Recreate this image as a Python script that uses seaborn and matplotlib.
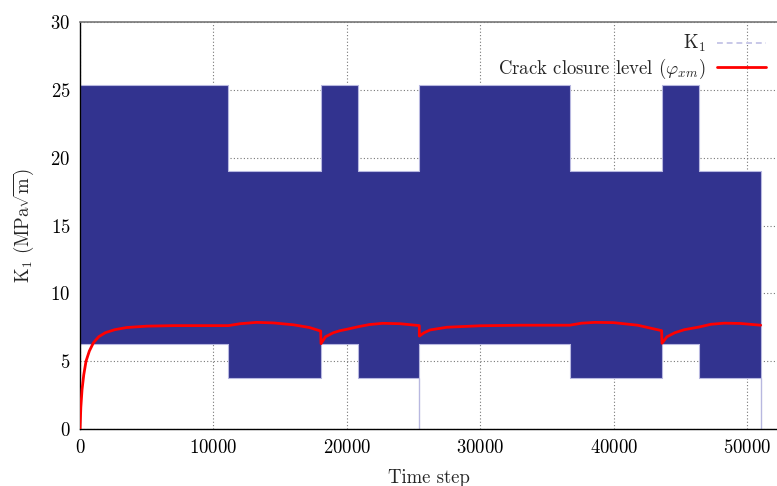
import numpy as np
import pandas as pd
import matplotlib
matplotlib.use("Agg")
import matplotlib.pyplot as plt
import seaborn as sns

# Blocs de chargement (K1 oscille entre kmin et kmax sur chaque bloc)
bloc_debut = [0, 11117, 18066, 20862, 25435, 36710, 43628, 46424, 51027]
k_max = [25.35, 19.0, 25.35, 19.0, 25.35, 19.0, 25.35, 19.0]
k_min = [6.3, 3.76, 6.3, 3.76, 6.3, 3.76, 6.3, 3.76]
# instants de décharge complète (K1 -> 0)
decharges = [25435, 51027]

# Niveau de fermeture de fissure
t_fermeture = [0, 60, 150, 280, 450, 700, 1000, 1400, 1900, 2600, 3500, 5000, 7000,
               9000, 11117, 12000, 13245, 14500, 16000, 17200, 18040, 18066, 18400,
               19000, 19500, 20000, 20862, 21700, 22700, 24000, 25435, 25436, 25800,
               26240, 27500, 30000, 33000, 36710, 37600, 38600, 40000, 41800, 43600,
               43628, 44000, 44600, 45300, 46424, 47300, 48300, 49500, 51027]
k_fermeture = [0.0, 1.6, 2.9, 4.0, 5.0, 5.75, 6.35, 6.8, 7.1, 7.32, 7.48, 7.58, 7.62,
               7.62, 7.62, 7.76, 7.86, 7.82, 7.68, 7.48, 7.22, 6.29, 6.8,
               7.1, 7.25, 7.35, 7.54, 7.7, 7.79, 7.76, 7.62, 6.85, 7.1,
               7.3, 7.5, 7.61, 7.65, 7.65, 7.8, 7.86, 7.84, 7.65, 7.25,
               6.32, 6.8, 7.1, 7.32, 7.52, 7.72, 7.8, 7.78, 7.65]

sns.set_theme(style="white")
plt.rcParams['font.family'] = ['cmr10', 'DejaVu Serif']
plt.rcParams['mathtext.fontset'] = 'cm'
plt.rcParams['axes.formatter.use_mathtext'] = True

fig = plt.figure(figsize=(7.77, 4.86), dpi=100)
ax = fig.add_axes([0.103, 0.1173, 0.897, 0.8374])

marine = '#32338f'
lavande = '#b8b8e0'

# grille pointillée
for xv in range(0, 60000, 10000):
    ax.axvline(xv, color='#777777', lw=0.8, ls=(0, (1, 2)), zorder=0)
for yv in range(0, 35, 5):
    ax.axhline(yv, color='#777777', lw=0.8, ls=(0, (1, 2)), zorder=0)

x_bloc = bloc_debut
ax.fill_between(x_bloc, k_min + [k_min[-1]], k_max + [k_max[-1]], step='post',
                facecolor=marine, edgecolor=lavande, lw=0.8, zorder=2)
ax.vlines(decharges, 0, 3.76, color=lavande, lw=1.0, zorder=2)

# entrée de légende pour K1
ax.plot([], [], color='#c8c8e8', lw=1.4, ls=(0, (3, 2)), label=r'K$_1$')

df = pd.DataFrame({'t': t_fermeture, 'k': k_fermeture})
sns.lineplot(data=df, x='t', y='k', ax=ax, color='red', lw=2.0, zorder=3,
             label=r'Crack closure level ($\varphi_{xm}$)')

ax.set_xlim(0, 52250)
ax.set_ylim(0, 30)
ax.set_xticks(range(0, 60000, 10000))
ax.set_yticks(range(0, 35, 5))
ax.tick_params(direction='in', length=8, width=1, labelsize=13.5, colors='black',
               top=False, right=False, pad=7)
for s in ['left', 'bottom']:
    ax.spines[s].set_color('black')
    ax.spines[s].set_linewidth(1)
ax.spines['top'].set_color('#777777')
ax.spines['top'].set_linewidth(1.2)
ax.spines['right'].set_visible(False)

ax.set_xlabel('Time step', fontsize=13.5, labelpad=9)
ax.set_ylabel(r'K$_1$ (MPa$\sqrt{\rm m}$)', fontsize=13.5, labelpad=10)

leg = ax.legend(loc='upper right', frameon=False, markerfirst=False, fontsize=13.5,
                handlelength=2.6, borderaxespad=0.2, labelspacing=0.12,
                handletextpad=0.6, bbox_to_anchor=(1.0, 1.0))
for t in leg.get_texts():
    t.set_ha('right')

fig.savefig('out.png', dpi=100)
